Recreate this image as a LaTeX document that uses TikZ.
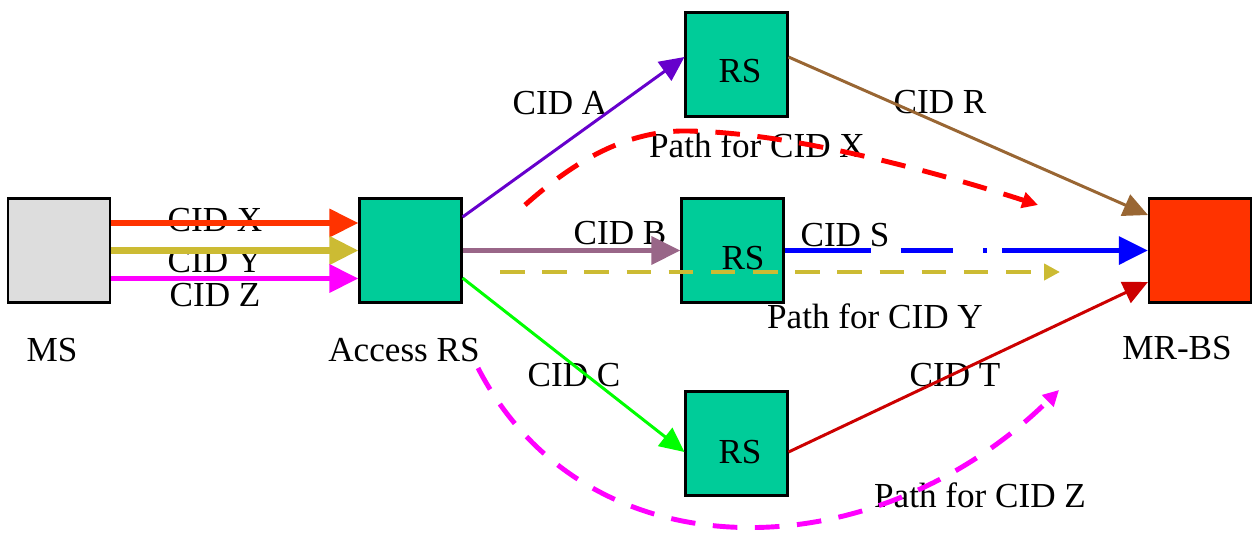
\documentclass[tikz,border=0pt]{standalone}
\usepackage{fontspec}
\setmainfont{Liberation Serif}
\usetikzlibrary{arrows.meta}
\definecolor{boxgreen}{HTML}{00CC99}
\definecolor{msgray}{HTML}{DDDDDD}
\definecolor{bsred}{HTML}{FF3300}
\definecolor{cidx}{HTML}{FF3300}
\definecolor{cidy}{HTML}{CCBB33}
\definecolor{cidz}{HTML}{FF00FF}
\definecolor{cida}{HTML}{6600CC}
\definecolor{cidb}{HTML}{996688}
\definecolor{cidc}{HTML}{00FF00}
\definecolor{cidr}{HTML}{996633}
\definecolor{cids}{HTML}{0000FF}
\definecolor{cidt}{HTML}{CC0000}
\definecolor{pathx}{HTML}{FF0000}

\begin{document}
\begin{tikzpicture}[x=0.02cm,y=-0.02cm,
        font=\fontsize{20}{24}\selectfont,
        station/.style={rectangle,draw,line width=1.2pt,minimum width=2.04cm,minimum height=2.08cm,inner sep=0pt},
        link/.style={line width=1.7pt,-{Triangle[length=14pt,width=13pt]}},
        biglink/.style={line width=3.2pt,-{Triangle[length=16.5pt,width=15.5pt]}},
        route/.style={line width=2.8pt,dash pattern=on 14pt off 10pt,-{Triangle[length=9pt,width=9pt]}}]
        \useasboundingbox (0,0) rectangle (1254,532);
        % stations
        \node [station,fill=msgray] (ms) at (59,250.5) {};
        \node [station,fill=boxgreen] (acc) at (410.5,250.5) {};
        \node [station,fill=boxgreen,label={[xshift=0.07cm,yshift=-0.13cm]center:RS}] (rs1) at (736.5,64.5) {};
        \node [station,fill=boxgreen,label={[xshift=0.21cm,yshift=-0.15cm]center:RS}] (rs2) at (732.5,250.5) {};
        \node [station,fill=boxgreen,label={[xshift=0.07cm,yshift=-0.17cm]center:RS}] (rs3) at (736.5,443.5) {};
        \node [station,fill=bsred] (bs) at (1200,250.5) {};
        \node (mslabel) at (52,350) {MS};
        \node (acclabel) at (404,350) {Access RS};
        \node (bslabel) at (1177,348) {MR-BS};
        % connection labels
        \node (lx) at (215,220) {CID X};
        \node (ly) at (215,261) {CID Y};
        \node (lz) at (215,295) {CID Z};
        \node (la) at (560,103) {CID A};
        \node (lb) at (620,233) {CID B};
        \node (lc) at (574,375) {CID C};
        \node (lr) at (940,102) {CID R};
        \node (ls) at (845,235) {CID S};
        \node (lt) at (955,375) {CID T};
        \node (px) at (757,145) {Path for CID X};
        \node (py) at (875,316) {Path for CID Y};
        \node (pz) at (980,495) {Path for CID Z};
        % connections
        \draw [biglink,cidx] ([yshift=0.55cm]ms.east) -- ([yshift=0.55cm]acc.west);
        \draw [biglink,cidy,line width=3.6pt] (ms.east) -- (acc.west);
        \draw [biglink,cidz] ([yshift=-0.56cm]ms.east) -- ([yshift=-0.56cm]acc.west);
        \draw [link,cida] ([yshift=0.67cm]acc.east) -- ([yshift=0.15cm]rs1.west);
        \draw [biglink,cidb] (acc.east) -- (rs2.west);
        \draw [link,cidc] ([yshift=-0.55cm]acc.east) -- ([yshift=-0.17cm]rs3.west);
        \draw [link,cidr] ([yshift=0.15cm]rs1.east) -- ([yshift=0.71cm]bs.west);
        \draw [biglink,cids,line width=3pt,dash pattern=on 49pt off 17pt on 30pt off 17pt on 2pt off 9pt on 150pt off 0pt] (rs2.east) -- (bs.west);
        \draw [link,cidt] ([yshift=-0.17cm]rs3.east) -- ([yshift=-0.63cm]bs.west);
        % paths
        \coordinate (xstart) at (525,205);
        \coordinate (xend) at (1038,205);
        \coordinate (ystart) at (500,272);
        \coordinate (yend) at (1060,272);
        \coordinate (zstart) at (478,368);
        \coordinate (zend) at (1059,390);
        \draw [route,pathx] (xstart) .. controls (570,165) and (620,133) .. (680,131)
                .. controls (780,130) and (930,170) .. (xend);
        \draw [route,cidy] (ystart) -- (yend);
        \draw [route,cidz] (zstart) .. controls (585,575) and (870,575) .. (zend);
\end{tikzpicture}
\end{document}
